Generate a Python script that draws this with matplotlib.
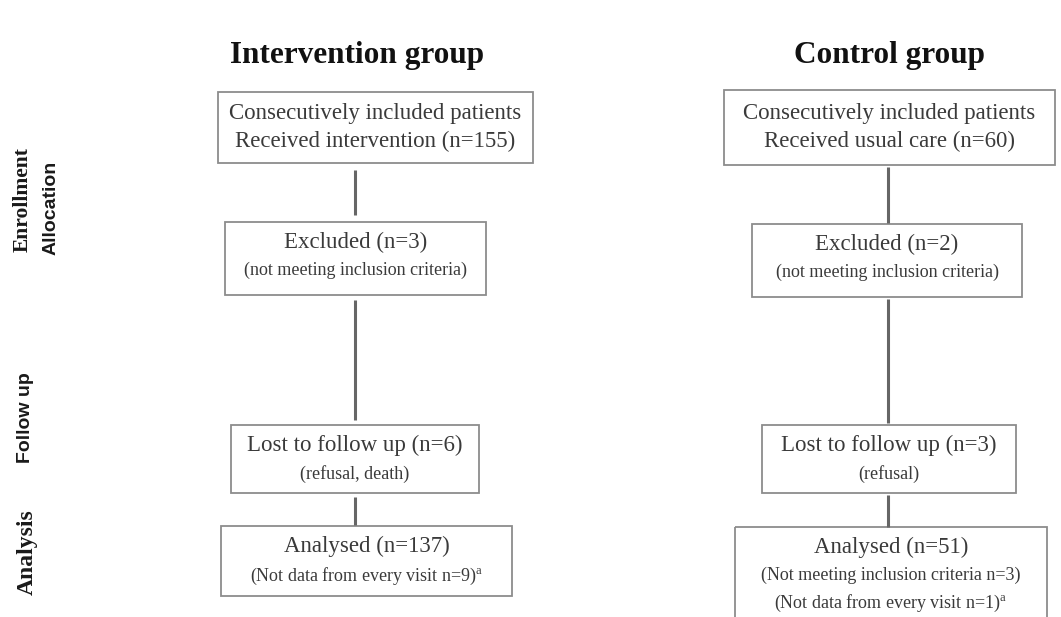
import matplotlib.pyplot as plt
from matplotlib.patches import Rectangle

# Data
group_titles = ["Intervention group", "Control group"]
stage_labels = ["Enrollment", "Allocation", "Follow up", "Analysis"]

intervention_main = [
    "Consecutively included patients\nReceived intervention (n=155)",
    "Excluded (n=3)",
    "Lost to follow up (n=6)",
    "Analysed (n=137)",
]
intervention_notes = [
    "",
    "(not meeting inclusion criteria)",
    "(refusal, death)",
    "(Not data from every visit n=9)$^{\\mathrm{a}}$",
]

control_main = [
    "Consecutively included patients\nReceived usual care (n=60)",
    "Excluded (n=2)",
    "Lost to follow up (n=3)",
    "Analysed (n=51)",
]
control_notes = [
    "",
    "(not meeting inclusion criteria)",
    "(refusal)",
    "(Not meeting inclusion criteria n=3)\n(Not data from every visit n=1)$^{\\mathrm{a}}$",
]

# Layout in pixel units (x0, y0, x1, y1), y going down
W, H = 1061, 617
left_boxes = [(218, 92, 533, 163), (225, 222, 486, 295), (231, 425, 479, 493), (221, 526, 512, 596)]
right_boxes = [(724, 90, 1055, 165), (752, 224, 1022, 297), (762, 425, 1016, 493), (735, 527, 1047, 640)]
left_links = [(170, 215), (300, 420), (497, 525)]
right_links = [(167, 223), (299, 423), (495, 527)]
left_x, right_x = 355, 888

SERIF = "Liberation Serif"
SANS = "Liberation Sans"
TEXT_C = "#3a3a3a"
EDGE_C = "#8c8c8c"
LINE_C = "#666666"

plt.rcParams["mathtext.fontset"] = "custom"
plt.rcParams["mathtext.rm"] = SERIF

fig = plt.figure(figsize=(W / 100, H / 100), dpi=100)
ax = fig.add_axes([0, 0, 1, 1])
ax.set_xlim(0, W)
ax.set_ylim(H, 0)
ax.axis("off")


def draw_column(boxes, mains, notes, links, xline, title, title_x):
    ax.text(title_x, 55, title, ha="center", va="center", fontsize=22.5,
            fontweight="bold", family=SERIF, color="#111111")
    for (x0, y0, x1, y1), main, note in zip(boxes, mains, notes):
        ax.add_patch(Rectangle((x0, y0), x1 - x0, y1 - y0, fill=False,
                               edgecolor=EDGE_C, linewidth=1.3))
        cx = (x0 + x1) / 2
        if note:
            ax.text(cx, y0 + 20, main, ha="center", va="center", fontsize=16.5,
                    family=SERIF, color=TEXT_C)
            ax.text(cx, y0 + 40, note, ha="center", va="top", fontsize=13,
                    family=SERIF, color=TEXT_C, linespacing=1.55)
        else:
            ax.text(cx, (y0 + y1) / 2, main, ha="center", va="center", fontsize=16.5,
                    family=SERIF, color=TEXT_C, linespacing=1.45)
    for ya, yb in links:
        ax.plot([xline, xline], [ya, yb], color=LINE_C, linewidth=2.2,
                solid_capstyle="butt")


draw_column(left_boxes, intervention_main, intervention_notes, left_links,
            left_x, group_titles[0], 357)
draw_column(right_boxes, control_main, control_notes, right_links,
            right_x, group_titles[1], 890)

# Stage labels on the left
ax.text(23, 200, stage_labels[0], rotation=90, ha="center", va="center",
        fontsize=15.5, fontweight="bold", family=SERIF, color="#1a1a1a")
ax.text(51, 208, stage_labels[1], rotation=90, ha="center", va="center",
        fontsize=14, fontweight="bold", family=SANS, color="#1a1a1a")
ax.text(26, 418, stage_labels[2], rotation=90, ha="center", va="center",
        fontsize=14, fontweight="bold", family=SANS, color="#1a1a1a")
ax.text(27, 552, stage_labels[3], rotation=90, ha="center", va="center",
        fontsize=17, fontweight="bold", family=SERIF, color="#1a1a1a")

fig.savefig("out.png", dpi=100, facecolor="white")
